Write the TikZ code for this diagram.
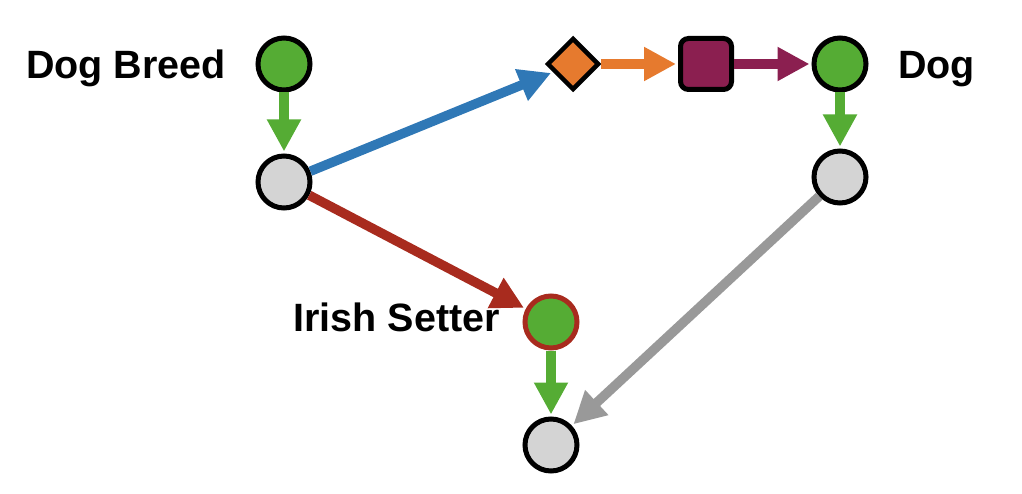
\documentclass[tikz,border=0pt]{standalone}
\usepackage{fontspec}
\setmainfont{Liberation Sans}
\usetikzlibrary{arrows.meta,shapes.geometric}
\definecolor{leafgreen}{HTML}{55AC34}
\definecolor{nodegray}{HTML}{D4D4D4}
\definecolor{carrot}{HTML}{E67A2E}
\definecolor{plum}{HTML}{8B1F50}
\definecolor{steelblue}{HTML}{2F78B6}
\definecolor{brick}{HTML}{A82B1E}
\definecolor{ashgray}{HTML}{999999}
\begin{document}
\begin{tikzpicture}[x=1pt, y=-1pt,
    dot/.style={circle, draw=black, line width=5pt, minimum size=52pt, inner sep=0pt},
    entity/.style={dot, fill=leafgreen},
    blank/.style={dot, fill=nodegray},
    flow/.style={line width=9.5pt, shorten >=2pt, -{Triangle[length=32pt,width=32pt]}},
    tag/.style={font=\fontsize{39.5}{41}\selectfont\bfseries, inner sep=0pt}]
    \useasboundingbox (0,0) rectangle (1022,494);

    % Nodes
    \node[entity] (breed) at (284,64) {};
    \node[blank] (breedval) at (284,182) {};
    \node[diamond, aspect=1, draw=black, line width=4.5pt, fill=carrot, minimum size=52pt, inner sep=0pt] (link) at (573,64) {};
    \node[rectangle, rounded corners=8pt, draw=black, line width=5pt, fill=plum, minimum size=51pt, inner sep=0pt] (rel) at (706,64) {};
    \node[entity] (dog) at (840,64) {};
    \node[blank] (dogval) at (840,177) {};
    \node[entity, draw=brick] (setter) at (551,322) {};
    \node[blank] (setterval) at (551,445) {};

    % Labels
    \node[tag, anchor=base east] (breedlbl) at (226,79) {Dog Breed};
    \node[tag, anchor=base west] (doglbl) at (898,79) {Dog};
    \node[tag, anchor=base east] (setterlbl) at (500,331) {Irish Setter};

    % Edges
    \draw[flow, leafgreen] (breed) -- (breedval);
    \draw[flow, steelblue] (breedval) -- (link);
    \draw[flow, carrot] (link) -- (rel);
    \draw[flow, plum] (rel) -- (dog);
    \draw[flow, leafgreen] (dog) -- (dogval);
    \draw[flow, brick] (breedval) -- (setter);
    \draw[flow, leafgreen] (setter) -- (setterval);
    \draw[flow, ashgray] (dogval) -- (setterval);
\end{tikzpicture}
\end{document}
